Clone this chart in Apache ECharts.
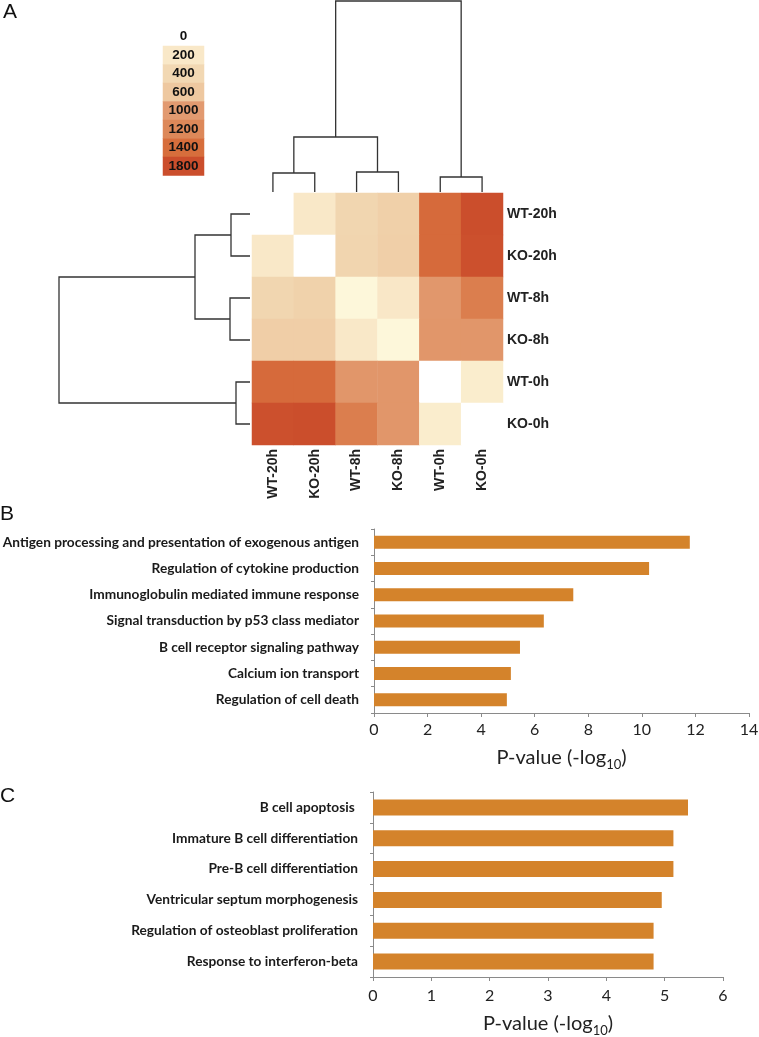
<!DOCTYPE html>
<html><head><meta charset="utf-8">
<script src="https://cdn.jsdelivr.net/npm/echarts@6/dist/echarts.min.js"></script>
<style>html,body{margin:0;padding:0;background:#fff}#c{width:759px;height:1037px}</style>
</head><body><div id="c"></div>
<script>
// ---------- data ----------
const samples = ['WT-20h', 'KO-20h', 'WT-8h', 'KO-8h', 'WT-0h', 'KO-0h'];
const rowWT20 = [0, 200, 430, 500, 1450, 1800];
const rowKO20 = [200, 0, 440, 510, 1450, 1780];
const rowWT8  = [430, 480, 100, 210, 1030, 1280];
const rowKO8  = [520, 520, 200, 100, 1050, 1050];
const rowWT0  = [1450, 1450, 1050, 1050, 0, 170];
const rowKO0  = [1780, 1800, 1280, 1050, 170, 0];
const distRows = [rowWT20, rowKO20, rowWT8, rowKO8, rowWT0, rowKO0];

const legendLabels = ['0', '200', '400', '600', '1000', '1200', '1400', '1800'];
const legendValues = [0, 200, 400, 600, 1000, 1200, 1400, 1800];
const colorStops = ['#FFFFFF','#FDF7DA','#F9E8C8','#F5E0BD','#F2D8B3','#F0D0A9','#EEC8A0','#EBBB93','#E8AE86','#E5A47B','#E29A70','#E09164','#DD8859','#DA7B4B','#D76E3C','#D4663A','#D15E35','#CE5631','#CB4E2C'];

// linkage: [nodeA, nodeB, height]; leaves 0..5, merged clusters 6..
const colLinkage = [[0, 1, 19], [2, 3, 20], [4, 5, 15], [6, 7, 55], [8, 9, 191]];
const rowLinkage = [[0, 1, 19], [2, 3, 20], [4, 5, 14], [6, 7, 55], [8, 9, 191]];

const termsB = ['Antigen processing and presentation of exogenous antigen', 'Regulation of cytokine production', 'Immunoglobulin mediated immune response', 'Signal transduction by p53 class mediator', 'B cell receptor signaling pathway', 'Calcium ion transport', 'Regulation of cell death'];
const pvalB = [11.79, 10.27, 7.44, 6.34, 5.45, 5.11, 4.96];
const termsC = ['B cell apoptosis ', 'Immature B cell differentiation', 'Pre-B cell differentiation', 'Ventricular septum morphogenesis', 'Regulation of osteoblast proliferation', 'Response to interferon-beta'];
const pvalC = [5.40, 5.15, 5.15, 4.95, 4.81, 4.81];

// ---------- build ----------
function buildDendro(link, n) {
  const pos = [], h = [];
  for (let i = 0; i < n; i++) { pos.push(i); h.push(0); }
  const segs = [];
  link.forEach(([a, b, ht]) => {
    segs.push([pos[a], h[a], pos[b], h[b], ht]);
    pos.push((pos[a] + pos[b]) / 2); h.push(ht);
  });
  return segs;
}
const heatData = [];
distRows.forEach((row, r) => row.forEach((v, c) => heatData.push([c, r, v])));
const legendData = legendValues.map((v, i) => [0, i, v]);

const AX = 'Liberation Sans';
const CAL = 'Lato';
const axisGrey = '#8a8a8a';
const barColor = '#D4832B';

function dendroRender(orient) {
  return function (params, api) {
    const pa = api.value(0), ha = api.value(1), pb = api.value(2), hb = api.value(3), h = api.value(4);
    const pts = orient === 'top'
      ? [[pa, ha], [pa, h], [pb, h], [pb, hb]]
      : [[ha, pa], [h, pa], [h, pb], [hb, pb]];
    return { type: 'polyline', shape: { points: pts.map(p => api.coord(p)) },
      style: { stroke: '#333', lineWidth: 1.3, fill: null } };
  };
}

const nameRich = {
  a: { fontFamily: CAL, fontSize: 20, color: '#222', lineHeight: 26 },
  s: { fontFamily: CAL, fontSize: 13, color: '#222', lineHeight: 26, verticalAlign: 'bottom' }
};

const chart = echarts.init(document.getElementById('c'), null, { renderer: 'canvas' });
chart.setOption({
  backgroundColor: '#fff',
  animation: false,
  title: [
    { text: 'A', left: 3, top: 2, padding: 0, textStyle: { fontFamily: AX, fontSize: 21, fontWeight: 'normal', color: '#111' } },
    { text: 'B', left: 0, top: 504, padding: 0, textStyle: { fontFamily: AX, fontSize: 21, fontWeight: 'normal', color: '#111' } },
    { text: 'C', left: 0, top: 786, padding: 0, textStyle: { fontFamily: AX, fontSize: 21, fontWeight: 'normal', color: '#111' } }
  ],
  grid: [
    { left: 252, top: 193, width: 251, height: 252, outerBoundsMode: 'none' },
    { left: 252, top: 1, width: 251, height: 191, outerBoundsMode: 'none' },
    { left: 59, top: 193, width: 191, height: 252, outerBoundsMode: 'none' },
    { left: 163, top: 27.5, width: 41, height: 148, outerBoundsMode: 'none' },
    { left: 374, top: 529, width: 375, height: 184, outerBoundsMode: 'none' },
    { left: 373, top: 792, width: 350, height: 185, outerBoundsMode: 'none' }
  ],
  xAxis: [
    { gridIndex: 0, type: 'category', data: samples, position: 'bottom',
      axisLine: { show: false }, axisTick: { show: false }, splitLine: { show: false },
      axisLabel: { interval: 0, rotate: 90, margin: 4, fontFamily: AX, fontWeight: 'bold', fontSize: 14, color: '#222' } },
    { gridIndex: 1, type: 'value', min: -0.5, max: 5.5, show: false },
    { gridIndex: 2, type: 'value', min: 0, max: 191, inverse: true, show: false },
    { gridIndex: 3, type: 'category', data: [''], show: false },
    { gridIndex: 4, type: 'value', min: 0, max: 14, interval: 2,
      axisLine: { show: true, lineStyle: { color: axisGrey } },
      axisTick: { show: true, length: 4, lineStyle: { color: axisGrey } },
      splitLine: { show: false },
      axisLabel: { margin: 9, fontFamily: CAL, fontSize: 16, color: '#222' },
      name: '{a|P-value (-log}{s|10}{a|)}', nameLocation: 'middle', nameGap: 32,
      nameTextStyle: { rich: nameRich } },
    { gridIndex: 5, type: 'value', min: 0, max: 6, interval: 1,
      axisLine: { show: true, lineStyle: { color: axisGrey } },
      axisTick: { show: true, length: 4, lineStyle: { color: axisGrey } },
      splitLine: { show: false },
      axisLabel: { margin: 11, fontFamily: CAL, fontSize: 16, color: '#222' },
      name: '{a|P-value (-log}{s|10}{a|)}', nameLocation: 'middle', nameGap: 34,
      nameTextStyle: { rich: nameRich } }
  ],
  yAxis: [
    { gridIndex: 0, type: 'category', data: samples, inverse: true, position: 'right',
      axisLine: { show: false }, axisTick: { show: false }, splitLine: { show: false },
      axisLabel: { interval: 0, margin: 4, fontFamily: AX, fontWeight: 'bold', fontSize: 14, color: '#222' } },
    { gridIndex: 1, type: 'value', min: 0, max: 191, show: false },
    { gridIndex: 2, type: 'value', min: -0.5, max: 5.5, inverse: true, show: false },
    { gridIndex: 3, type: 'category', data: legendLabels, inverse: true, show: false },
    { gridIndex: 4, type: 'category', data: termsB, inverse: true,
      axisLine: { show: true, lineStyle: { color: axisGrey } },
      axisTick: { show: true, length: 3, alignWithLabel: false, lineStyle: { color: axisGrey } },
      splitLine: { show: false },
      axisLabel: { interval: 0, margin: 15, fontFamily: CAL, fontWeight: 'bold', fontSize: 13.7, color: '#1a1a1a' } },
    { gridIndex: 5, type: 'category', data: termsC, inverse: true,
      axisLine: { show: true, lineStyle: { color: axisGrey } },
      axisTick: { show: true, length: 3, alignWithLabel: false, lineStyle: { color: axisGrey } },
      splitLine: { show: false },
      axisLabel: { interval: 0, margin: 15, fontFamily: CAL, fontWeight: 'bold', fontSize: 13.7, color: '#1a1a1a' } }
  ],
  visualMap: {
    type: 'continuous', show: false, min: 0, max: 1800, dimension: 2,
    seriesIndex: [0, 1], inRange: { color: colorStops }
  },
  series: [
    { type: 'heatmap', xAxisIndex: 0, yAxisIndex: 0, data: heatData,
      itemStyle: { borderWidth: 0 }, emphasis: { disabled: true } },
    { type: 'heatmap', xAxisIndex: 3, yAxisIndex: 3, data: legendData,
      itemStyle: { borderWidth: 0 }, emphasis: { disabled: true },
      label: { show: true, formatter: p => legendLabels[p.data[1]], fontFamily: AX, fontWeight: 'bold', fontSize: 13.5, color: '#111' } },
    { type: 'custom', xAxisIndex: 1, yAxisIndex: 1, data: buildDendro(colLinkage, samples.length),
      encode: { x: [0, 2], y: [1, 3, 4] }, renderItem: dendroRender('top'), silent: true },
    { type: 'custom', xAxisIndex: 2, yAxisIndex: 2, data: buildDendro(rowLinkage, samples.length),
      encode: { x: [1, 3, 4], y: [0, 2] }, renderItem: dendroRender('left'), silent: true },
    { type: 'bar', xAxisIndex: 4, yAxisIndex: 4, data: pvalB, barWidth: 13,
      itemStyle: { color: barColor }, emphasis: { disabled: true } },
    { type: 'bar', xAxisIndex: 5, yAxisIndex: 5, data: pvalC, barWidth: 16,
      itemStyle: { color: barColor }, emphasis: { disabled: true } }
  ]
});
</script>
</body></html>
